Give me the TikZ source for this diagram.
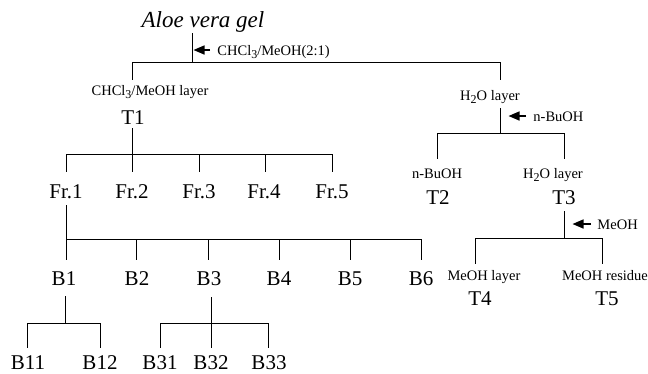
\documentclass[tikz,border=0pt]{standalone}
\usepackage{fontspec}
\setmainfont{Liberation Serif}
\usetikzlibrary{arrows.meta}
\newcommand{\lowsub}[1]{\raisebox{-0.22em}{\fontsize{12}{12}\selectfont #1}}
\begin{document}
\begin{tikzpicture}[x=1pt,y=-1pt,line width=0.9pt,
  big/.style={inner sep=0pt,anchor=base,font=\fontsize{21}{24}\selectfont},
  small/.style={inner sep=0pt,anchor=base,font=\fontsize{14.5}{17}\selectfont},
  addlbl/.style={inner sep=0pt,anchor=base west,font=\fontsize{14.5}{17}\selectfont},
  addarrow/.style={-{Triangle[length=11pt,width=9pt]},line width=1.5pt}]
\useasboundingbox (0,0) rectangle (648,373);

% ---- text nodes ----
\node[inner sep=0pt,anchor=base,font=\fontsize{23}{26}\selectfont\itshape] (aloe) at (203,27) {Aloe vera gel};
\node[addlbl] (solv1) at (217,55) {CHCl\lowsub{3}/MeOH(2:1)};
\node[small] (chlayer) at (150,95) {CHCl\lowsub{3}/MeOH layer};
\node[big] (t1) at (133,124) {T1};
\node[small] (wlayer) at (490,100) {H\lowsub{2}O layer};
\node[addlbl] (solv2) at (533,121) {n-BuOH};
\node[small] (bulayer) at (437,178) {n-BuOH};
\node[big] (t2) at (438,204) {T2};
\node[small] (wlayer2) at (553,178) {H\lowsub{2}O layer};
\node[big] (t3) at (564,204) {T3};
\node[addlbl] (solv3) at (597,229) {MeOH};
\node[small] (melayer) at (484,280) {MeOH layer};
\node[big] (t4) at (480,305) {T4};
\node[small] (meres) at (605,280) {MeOH residue};
\node[big] (t5) at (607,305) {T5};

\node[big] (fr1) at (66,198) {Fr.1};
\node[big] (fr2) at (132,198) {Fr.2};
\node[big] (fr3) at (199,198) {Fr.3};
\node[big] (fr4) at (264,198) {Fr.4};
\node[big] (fr5) at (332,198) {Fr.5};

\node[big] (b1) at (64,285) {B1};
\node[big] (b2) at (137,285) {B2};
\node[big] (b3) at (209,285) {B3};
\node[big] (b4) at (279,285) {B4};
\node[big] (b5) at (350,285) {B5};
\node[big] (b6) at (421,285) {B6};

\node[big] (b11) at (28,369) {B11};
\node[big] (b12) at (100,369) {B12};
\node[big] (b31) at (160,369) {B31};
\node[big] (b32) at (211,369) {B32};
\node[big] (b33) at (269,369) {B33};

% ---- junction coordinates ----
\coordinate (j0) at (192,62);
\coordinate (j0l) at (132,62);
\coordinate (j0r) at (500,62);
\coordinate (jt1) at (132.5,154);
\coordinate (jfr) at (66,239);
\coordinate (jb1) at (65,323);
\coordinate (jb3) at (211,323);
\coordinate (jw) at (500,133);
\coordinate (jt3) at (564,238);

% ---- extraction 1 ----
\draw (192,33) -- (j0);
\draw (j0l) -- (j0r);
\draw (j0l) -- (132,80);
\draw (j0r) -- (500,80);
\draw[addarrow] (210,50) -- (193.5,50);

% ---- T1 -> fractions ----
\draw (132.5,128) -- (jt1);
\draw (66,154) -- (332,154);
\foreach \x in {66,132.5,199,265,332} \draw (\x,154) -- (\x,172);

% ---- Fr.1 -> B ----
\draw (66,205) -- (jfr);
\draw (jfr) -- (421,239);
\foreach \x in {66,136,208,279,350,421} \draw (\x,239) -- (\x,260);

% ---- B1 -> B11, B12 ----
\draw (65,296) -- (jb1);
\draw (27,323) -- (100,323);
\foreach \x in {27,100} \draw (\x,323) -- (\x,348);

% ---- B3 -> B31..B33 ----
\draw (211,297) -- (211,348);
\draw (160,323) -- (268,323);
\foreach \x in {160,268} \draw (\x,323) -- (\x,348);

% ---- H2O layer -> n-BuOH partition ----
\draw (500,108) -- (jw);
\draw[addarrow] (526,116) -- (508.5,116);
\draw (437,133) -- (564,133);
\foreach \x in {437,564} \draw (\x,133) -- (\x,159);

% ---- T3 -> MeOH ----
\draw (564,211) -- (jt3);
\draw[addarrow] (591,224) -- (572.5,224);
\draw (475,238) -- (602,238);
\foreach \x in {475,602} \draw (\x,238) -- (\x,264);
\end{tikzpicture}
\end{document}
